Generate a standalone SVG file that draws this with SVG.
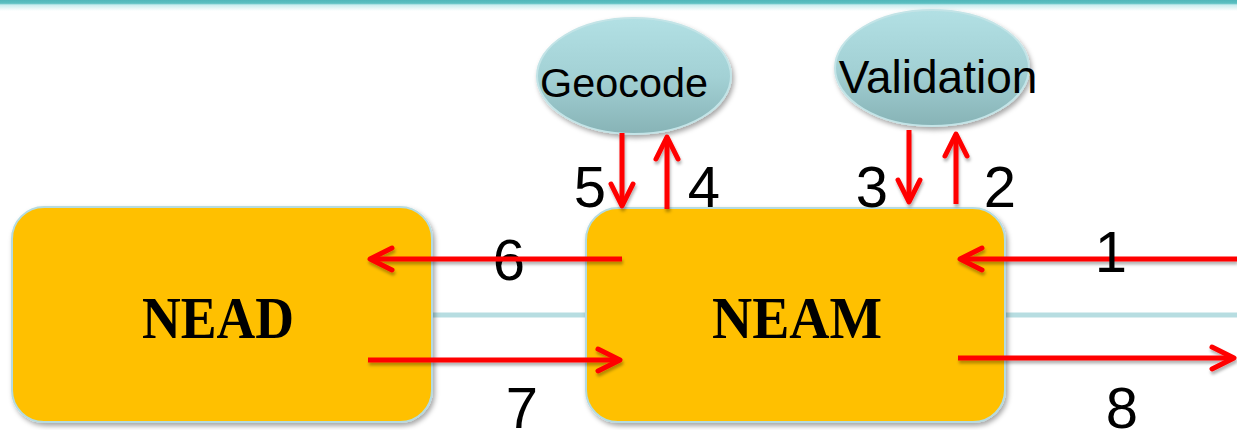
<svg xmlns="http://www.w3.org/2000/svg" width="1237" height="430" viewBox="0 0 1237 430">
  <defs>
    <linearGradient id="topband" x1="0" y1="0" x2="0" y2="1">
      <stop offset="0" stop-color="#4fb6b9"/>
      <stop offset="0.3" stop-color="#5cc0c2"/>
      <stop offset="0.45" stop-color="#c8ecee"/>
      <stop offset="1" stop-color="#ffffff"/>
    </linearGradient>
    <linearGradient id="ellfill" x1="0" y1="0" x2="0" y2="1">
      <stop offset="0" stop-color="#b2e0e4"/>
      <stop offset="0.5" stop-color="#a3d1d5"/>
      <stop offset="1" stop-color="#87b3b6"/>
    </linearGradient>
    <filter id="shadow" x="-10%" y="-10%" width="125%" height="130%">
      <feDropShadow dx="2" dy="3" stdDeviation="2.5" flood-color="#000" flood-opacity="0.35"/>
    </filter>
    <filter id="ashadow" filterUnits="userSpaceOnUse" x="0" y="0" width="1237" height="430">
      <feDropShadow dx="1" dy="3" stdDeviation="1.5" flood-color="#000" flood-opacity="0.3"/>
    </filter>
    <marker id="arrow" markerUnits="userSpaceOnUse" markerWidth="40" markerHeight="40" viewBox="-30 -20 40 40" refX="0" refY="0" orient="auto">
      <path d="M-22,-11 L0,0 L-22,11" fill="none" stroke="#ff0000" stroke-width="5" stroke-linecap="round" stroke-linejoin="round"/>
    </marker>
    <style>
      .box { fill: #ffc000; stroke: #b5dbe0; stroke-width: 2; filter: url(#shadow); }
      .ell { fill: url(#ellfill); stroke: #c3e4e7; stroke-width: 2; filter: url(#shadow); }
      .title { font-family: "Liberation Serif", "Times New Roman", serif; font-weight: bold; font-size: 59px; fill: #000; text-anchor: middle; }
      .etxt { font-family: "Liberation Sans", Arial, sans-serif; fill: #000; text-anchor: middle; }
      .num { font-family: "Liberation Sans", Arial, sans-serif; font-size: 58px; fill: #000; text-anchor: middle; }
      .link { stroke: #b7dde1; stroke-width: 5; fill: none; }
      .arr { stroke: #ff0000; stroke-width: 5; fill: none; marker-end: url(#arrow); }
    </style>
  </defs>

  <rect x="0" y="0" width="1237" height="430" fill="#ffffff"/>
  <rect x="0" y="0" width="1237" height="11" fill="url(#topband)"/>

  <g id="links">
    <line class="link" x1="430" y1="315" x2="588" y2="315"/>
    <line class="link" x1="1003" y1="315" x2="1237" y2="315"/>
  </g>

  <g id="NEAD">
    <rect class="box" x="12" y="207" width="420" height="215" rx="32" ry="32"/>
    <text class="title" x="218" y="338" textLength="152" lengthAdjust="spacingAndGlyphs">NEAD</text>
  </g>

  <g id="NEAM">
    <rect class="box" x="586" y="208" width="419" height="214" rx="32" ry="32"/>
    <text class="title" x="797" y="338" textLength="170" lengthAdjust="spacingAndGlyphs">NEAM</text>
  </g>

  <g id="Geocode">
    <ellipse class="ell" cx="634" cy="76" rx="97" ry="58"/>
    <text class="etxt" x="624" y="97" font-size="41" textLength="168" lengthAdjust="spacingAndGlyphs">Geocode</text>
  </g>

  <g id="Validation">
    <ellipse class="ell" cx="932" cy="68" rx="97" ry="58"/>
    <text class="etxt" x="938" y="93" font-size="46">Validation</text>
  </g>

  <g id="label6">
    <text class="num" x="509" y="280">6</text>
  </g>

  <g id="connectors" filter="url(#ashadow)">
    <line class="arr" x1="1237" y1="259" x2="960" y2="259"/>
    <line class="arr" x1="909" y1="130" x2="909" y2="202"/>
    <line class="arr" x1="956" y1="204" x2="956" y2="134"/>
    <line class="arr" x1="667" y1="209" x2="667" y2="137"/>
    <line class="arr" x1="622" y1="133" x2="622" y2="206"/>
    <line class="arr" x1="622" y1="259" x2="370" y2="259"/>
    <line class="arr" x1="368" y1="360" x2="620" y2="360"/>
    <line class="arr" x1="958" y1="358" x2="1234" y2="358"/>
  </g>

  <g id="labels">
    <text class="num" x="1111" y="272">1</text>
    <text class="num" x="1000" y="207">2</text>
    <text class="num" x="872" y="207">3</text>
    <text class="num" x="704" y="207">4</text>
    <text class="num" x="590" y="207">5</text>
    <text class="num" x="522" y="428">7</text>
    <text class="num" x="1122" y="428">8</text>
  </g>
</svg>
